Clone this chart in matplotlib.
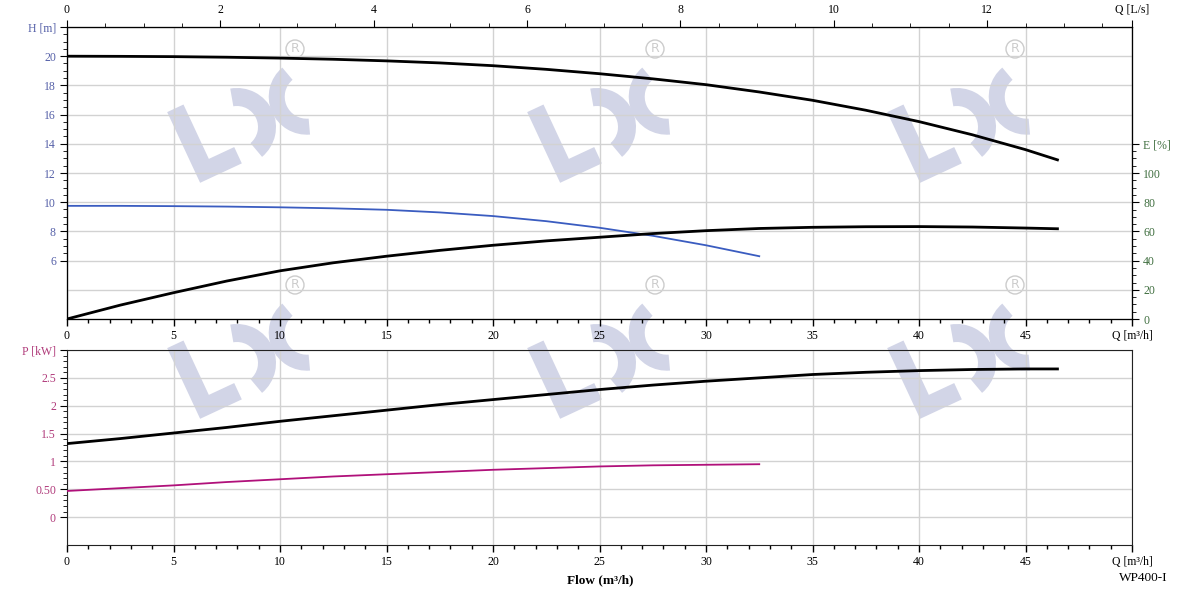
import matplotlib
matplotlib.use("Agg")
import matplotlib.pyplot as plt
import matplotlib.patches as mpatches
import matplotlib.transforms as mtransforms
from matplotlib.ticker import MultipleLocator, FixedLocator

plt.rcParams['font.family'] = ['Liberation Serif', 'DejaVu Serif']

# values (flow in m3/h)
q_big = [0, 2.5, 5, 7.5, 10, 12.5, 15, 17.5, 20, 22.5, 25, 27.5, 30, 32.5, 35, 37.5, 40, 42.5, 45, 46.5]
h_big = [20.0, 19.99, 19.97, 19.93, 19.87, 19.79, 19.68, 19.54, 19.35, 19.1, 18.8, 18.45, 18.05, 17.55,
         16.98, 16.3, 15.52, 14.62, 13.6, 12.9]
e_big = [0, 9.5, 18, 26, 33, 38.5, 43, 47, 50.5, 53.5, 56, 58.5, 60.5, 62, 62.8, 63.2, 63.3, 63.0, 62.3, 61.8]
p_big = [1.32, 1.41, 1.51, 1.61, 1.72, 1.82, 1.92, 2.02, 2.11, 2.2, 2.29, 2.37, 2.44, 2.5,
         2.56, 2.6, 2.63, 2.65, 2.66, 2.66]

q_small = [0, 2.5, 5, 7.5, 10, 12.5, 15, 17.5, 20, 22.5, 25, 27.5, 30, 32.5]
h_small = [9.75, 9.75, 9.73, 9.7, 9.65, 9.58, 9.48, 9.3, 9.05, 8.7, 8.25, 7.7, 7.05, 6.3]
p_small = [0.47, 0.52, 0.57, 0.63, 0.68, 0.73, 0.77, 0.81, 0.85, 0.88, 0.91, 0.93, 0.94, 0.95]

x_ticks = [0, 5, 10, 15, 20, 25, 30, 35, 40, 45, 50]
x_labels = ['0', '5', '10', '15', '20', '25', '30', '35', '40', '45', 'Q [m³/h]']
ls_ticks = [0, 2, 4, 6, 8, 10, 12, 50 / 3.6]
ls_labels = ['0', '2', '4', '6', '8', '10', '12', 'Q [L/s]']
h_ticks = [6, 8, 10, 12, 14, 16, 18, 20, 22]
h_labels = ['6', '8', '10', '12', '14', '16', '18', '20', 'H [m]']
e_ticks = [0, 20, 40, 60, 80, 100, 120]
e_labels = ['0', '20', '40', '60', '80', '100', 'E [%]']
p_ticks = [0, 0.5, 1, 1.5, 2, 2.5, 3]
p_labels = ['0', '0.50', '1', '1.5', '2', '2.5', 'P [kW]']

H_COL = '#5560a8'
E_COL = '#3f6e3f'
P_COL = '#b03a7a'
GRID = '#d2d2d2'
FS = 8.5

W, H = 1200, 592
fig = plt.figure(figsize=(W / 100, H / 100), dpi=100)

# watermark logos, in pixel coordinates
pix = mtransforms.Affine2D().scale(1 / W, 1 / H) + fig.transFigure
logo_col = '#d2d5e7'
for cy in [127, 363]:
    for cx in [237, 597, 957]:
        tr = mtransforms.Affine2D().rotate_deg(25).translate(cx, H - cy) + pix
        L = mpatches.Polygon([(-57, -35), (-57, 43), (-39, 43), (-39, -17), (-11, -17), (-11, -35)],
                             closed=True, fc=logo_col, ec='none', transform=tr, zorder=0)
        a1 = mpatches.Wedge((0, 0), 39, -75, 75, width=18, fc=logo_col, ec='none', transform=tr, zorder=0)
        a2 = mpatches.Wedge((76, -2), 38, 105, 250, width=16, fc=logo_col, ec='none', transform=tr, zorder=0)
        for p in (L, a1, a2):
            fig.add_artist(p)
        rx, ry = cx + 58, cy - 78
        c = mpatches.Circle((rx, H - ry), 9, fc='none', ec='#cccccc', lw=1, transform=pix, zorder=0)
        fig.add_artist(c)
        fig.text(rx / W, 1 - ry / H, 'R', ha='center', va='center', fontsize=9,
                 color='#cccccc', family='DejaVu Sans', zorder=0)


def style_x(ax):
    ax.set_xlim(0, 50)
    ax.set_xticks(x_ticks)
    ax.set_xticklabels(x_labels)
    ax.xaxis.set_minor_locator(MultipleLocator(1))
    ax.tick_params(axis='x', which='major', direction='out', length=5, width=1, labelsize=FS, pad=3)
    ax.tick_params(axis='x', which='minor', direction='out', length=3, width=1)
    ax.grid(True, axis='x', color=GRID, lw=1)
    ax.set_facecolor('none')
    for s in ax.spines.values():
        s.set_color('#222222')


# top panel: head + efficiency
ax1 = fig.add_axes([67 / W, 1 - 319 / H, 1065 / W, 292 / H])
style_x(ax1)
ax1.set_ylim(2, 22)
ax1.set_yticks(h_ticks)
ax1.set_yticklabels(h_labels)
ax1.yaxis.set_minor_locator(FixedLocator([6 + 0.5 * i for i in range(33)]))
ax1.tick_params(axis='y', which='major', length=5, labelsize=FS, labelcolor=H_COL, pad=3)
ax1.tick_params(axis='y', which='minor', length=3)
ax1.grid(True, axis='y', color=GRID, lw=1)
ax1.axhline(4, color=GRID, lw=1, zorder=0.5)
ax1.set_axisbelow(True)
ax1.plot(q_big, h_big, color='black', lw=2.0, zorder=3)
ax1.plot(q_small, h_small, color='#3a5cc0', lw=1.3, zorder=3)

ax1e = ax1.twinx()
ax1e.set_ylim(0, 200)
ax1e.set_yticks(e_ticks)
ax1e.set_yticklabels(e_labels)
ax1e.yaxis.set_minor_locator(FixedLocator(list(range(0, 121, 5))))
ax1e.tick_params(axis='y', which='major', length=5, labelsize=FS, labelcolor=E_COL, pad=3)
ax1e.tick_params(axis='y', which='minor', length=3)
ax1e.plot(q_big, e_big, color='black', lw=2.0, zorder=3)
ax1e.set_facecolor('none')

ax1q = ax1.twiny()
ax1q.set_xlim(0, 50 / 3.6)
ax1q.set_xticks(ls_ticks)
ax1q.set_xticklabels(ls_labels)
ax1q.xaxis.set_minor_locator(FixedLocator([0.5 * i for i in range(28)]))
ax1q.tick_params(axis='x', which='major', length=5, labelsize=FS, pad=3)
ax1q.tick_params(axis='x', which='minor', length=3)
ax1q.set_facecolor('none')

# bottom panel: power
ax2 = fig.add_axes([67 / W, 1 - 545 / H, 1065 / W, 195 / H])
style_x(ax2)
ax2.set_ylim(-0.5, 3.0)
ax2.set_yticks(p_ticks)
ax2.set_yticklabels(p_labels)
ax2.yaxis.set_minor_locator(FixedLocator([0.1 * i for i in range(31)]))
ax2.tick_params(axis='y', which='major', length=5, labelsize=FS, labelcolor=P_COL, pad=3)
ax2.tick_params(axis='y', which='minor', length=3)
ax2.grid(True, axis='y', color=GRID, lw=1)
ax2.set_axisbelow(True)
ax2.plot(q_big, p_big, color='black', lw=2.0, zorder=3)
ax2.plot(q_small, p_small, color='#b0107a', lw=1.3, zorder=3)

fig.text(600 / W, 1 - 580 / H, 'Flow (m³/h)', ha='center', va='center', fontsize=9.5, fontweight='bold')
fig.text(1143 / W, 1 - 578 / H, 'WP400-I', ha='center', va='center', fontsize=9.5)

fig.savefig('out.png', dpi=100)
